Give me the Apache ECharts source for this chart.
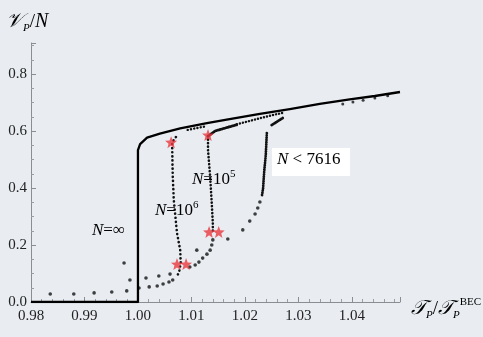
<!DOCTYPE html>
<html>
<head>
<meta charset="utf-8">
<script src="https://cdn.jsdelivr.net/npm/echarts@6/dist/echarts.min.js"></script>
<style>
  html, body { margin: 0; padding: 0; background: #e9edf2; }
  #chart { width: 483px; height: 337px; }
</style>
</head>
<body>
<div id="chart"></div>
<script>
// ---- data ----
// N = infinity (solid)
const infCurve = [
  [0.98, 0], [1.0, 0], [1.0, 0.533], [1.0004, 0.554], [1.0017, 0.577],
  [1.0041, 0.591], [1.0079, 0.609], [1.0129, 0.628], [1.0166, 0.640],
  [1.0228, 0.660], [1.0284, 0.677], [1.0340, 0.695], [1.0396, 0.711],
  [1.0443, 0.723], [1.0490, 0.737]
]
// N = 1e6, dense dotted part
const n6Dense = [
  [1.0071, 0.579], [1.0064, 0.561], [1.0064, 0.544], [1.0065, 0.446],
  [1.0067, 0.358], [1.0073, 0.242], [1.0079, 0.182], [1.0080, 0.137],
  [1.0077, 0.105], [1.0073, 0.091]
]
const n6Top = [[1.0093, 0.604], [1.0125, 0.616]]
const n6Low = [
  [1.0065, 0.077], [1.0058, 0.070], [1.0047, 0.063], [1.0036, 0.056],
  [1.0021, 0.053], [1.0002, 0.049], [0.9979, 0.039], [0.9951, 0.035],
  [0.9918, 0.032], [0.9880, 0.028], [0.9836, 0.028]
]
// N = 1e5
const n5Dense = [
  [1.0131, 0.582], [1.0131, 0.533], [1.0135, 0.439], [1.0138, 0.347],
  [1.0140, 0.277], [1.0140, 0.246]
]
const n5TopSolid = [[1.0131, 0.582], [1.0144, 0.600], [1.0166, 0.612], [1.0185, 0.622]]
const n5TopDash = [[1.0185, 0.624], [1.0204, 0.633], [1.0228, 0.645], [1.0252, 0.656], [1.0271, 0.664]]
const n5Low = [
  [1.0140, 0.218], [1.0138, 0.200], [1.0135, 0.182], [1.0129, 0.168],
  [1.0121, 0.154], [1.0114, 0.140], [1.0107, 0.130], [1.0097, 0.123],
  [1.0060, 0.098], [1.0039, 0.091], [1.0015, 0.084], [0.9985, 0.077]
]
// N < 7616
const cTop = [[1.0250, 0.621], [1.0271, 0.646]]
const cDense = [[1.0241, 0.593], [1.0239, 0.516], [1.0236, 0.456], [1.0234, 0.400], [1.0232, 0.375]]
const cSparse = [
  [1.0228, 0.351], [1.0224, 0.330], [1.0219, 0.309], [1.0209, 0.284],
  [1.0196, 0.253], [1.0168, 0.221], [1.0110, 0.182], [0.9974, 0.137]
]
// small points hanging under the solid line on the right
const rightDots = [[1.0383, 0.695], [1.0402, 0.702], [1.0421, 0.708], [1.0443, 0.716], [1.0467, 0.724]]
// red stars
const stars = [
  [1.0062, 0.561], [1.0131, 0.586], [1.0073, 0.133],
  [1.0090, 0.133], [1.0133, 0.246], [1.0151, 0.246]
]

const serif = "'Liberation Serif', 'DejaVu Serif', serif"
const starPath = 'path://M12,0.6 L14.9,8.3 L23.1,8.6 L16.7,13.7 L18.9,21.6 L12,17.1 L5.1,21.6 L7.3,13.7 L0.9,8.6 L9.1,8.3 Z'

const dotted = (data, gap, width) => ({
  type: 'line',
  data,
  symbol: 'none',
  silent: true,
  lineStyle: { color: '#111', width: width || 2.6, type: [0.1, gap], cap: 'round' }
})
const dots = (data, size) => ({
  type: 'scatter',
  data,
  symbol: 'circle',
  symbolSize: size || 3.6,
  itemStyle: { color: '#111' },
  silent: true
})

const rich = {
  i: { fontFamily: serif, fontStyle: 'italic', fontSize: 17, color: '#1a1a1a', lineHeight: 22 },
  r: { fontFamily: serif, fontSize: 17, color: '#1a1a1a', lineHeight: 22 },
  ti: { fontFamily: serif, fontStyle: 'italic', fontSize: 20, color: '#1a1a1a', lineHeight: 24 },
  tr: { fontFamily: serif, fontSize: 19, color: '#1a1a1a', lineHeight: 24 },
  sup: { fontFamily: serif, fontSize: 11, color: '#1a1a1a', verticalAlign: 'top' },
  supi: { fontFamily: serif, fontSize: 11, color: '#1a1a1a', verticalAlign: 'top' },
  sub: { fontFamily: serif, fontStyle: 'italic', fontSize: 11, color: '#1a1a1a', verticalAlign: 'bottom' }
}

const chart = echarts.init(document.getElementById('chart'), null, { renderer: 'canvas' })
chart.setOption({
  animation: false,
  backgroundColor: '#e9edf2',
  grid: { left: 31, right: 83, top: 43, bottom: 35 },
  xAxis: {
    type: 'value',
    min: 0.98,
    max: 1.049,
    interval: 0.01,
    axisLine: { lineStyle: { color: '#8a8d92', width: 1 } },
    axisTick: { inside: true, length: 5, lineStyle: { color: '#8a8d92' } },
    minorTick: { show: true, splitNumber: 5, length: 3, lineStyle: { color: '#9a9da2' } },
    splitLine: { show: false },
    axisLabel: {
      formatter: v => v.toFixed(2),
      fontFamily: serif, fontSize: 15, color: '#222', margin: 7,
      showMaxLabel: false
    }
  },
  yAxis: {
    type: 'value',
    min: 0,
    max: 0.909,
    interval: 0.2,
    axisLine: { show: true, lineStyle: { color: '#8a8d92', width: 1 } },
    axisTick: { show: true, inside: true, length: 5, lineStyle: { color: '#8a8d92' } },
    minorTick: { show: true, splitNumber: 4, length: 3, lineStyle: { color: '#9a9da2' } },
    splitLine: { show: false },
    axisLabel: {
      formatter: v => v.toFixed(1),
      fontFamily: serif, fontSize: 15, color: '#222', margin: 4,
      showMaxLabel: false
    }
  },
  graphic: [
    { type: 'text', left: 6, top: 12, style: { text: '{ti|𝒱}{sub|P}{tr|/}{ti|N}', rich } },
    { type: 'text', left: 411, top: 297, style: { text: '{ti|𝒯}{sub|P}{tr|/}{ti|𝒯}{sub|P}{supi|BEC}', rich } },
    { type: 'text', left: 92, top: 222, style: { text: '{i|N}{r|=∞}', rich } },
    { type: 'text', left: 155, top: 200, style: { text: '{i|N}{r|=10}{sup|6}', rich } },
    { type: 'text', left: 192, top: 169, style: { text: '{i|N}{r|=10}{sup|5}', rich } },
    { type: 'rect', left: 272, top: 148, shape: { width: 78, height: 28 }, style: { fill: '#ffffff' } },
    { type: 'text', left: 277, top: 151, style: { text: '{i|N}{r| < 7616}', rich } }
  ],
  series: [
    {
      type: 'line',
      data: infCurve,
      symbol: 'none',
      silent: true,
      lineStyle: { color: '#000', width: 2.3, join: 'round' }
    },
    dotted(n6Dense, 4),
    dotted(n6Top, 3.2, 2.4),
    dots(n6Low),
    dotted(n5Dense, 3.4),
    dotted(n5TopSolid, 1.2, 2.8),
    dotted(n5TopDash, 3, 2.4),
    dots(n5Low),
    dotted(cTop, 1.2, 2.8),
    dotted(cDense, 2.2, 2.8),
    dots(cSparse),
    dots(rightDots, 3),
    {
      type: 'scatter',
      data: stars,
      symbol: starPath,
      symbolSize: 12,
      itemStyle: { color: '#e8383e' },
      silent: true,
      z: 5
    }
  ]
})
</script>
</body>
</html>
